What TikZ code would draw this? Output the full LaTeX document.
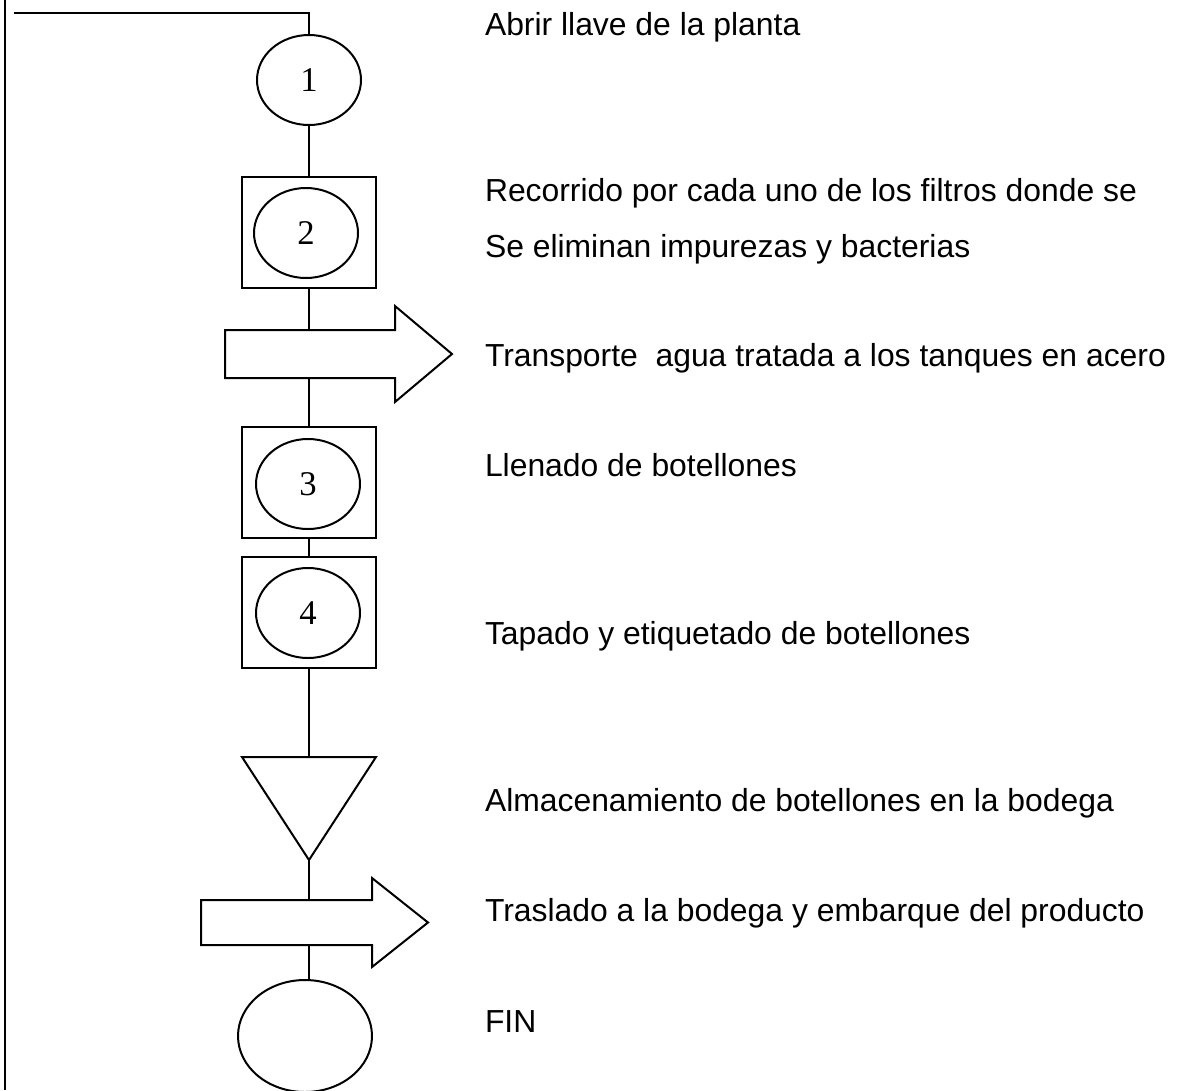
\documentclass[tikz,border=0pt]{standalone}
\usepackage{fontspec}
\setmainfont{Liberation Serif}
\newfontfamily\arial{Liberation Sans}
\usetikzlibrary{shapes.geometric}
\tikzset{proc/.style={draw, ellipse, inner sep=0pt, minimum width=78pt, minimum height=67.5pt,
                      font=\fontsize{26}{30}\selectfont}}
\tikzset{caja/.style={draw, rectangle, inner sep=0pt, minimum width=100.5pt, minimum height=83.25pt}}
\tikzset{texto/.style={anchor=base west, inner sep=0pt, font=\arial\fontsize{23.9}{28}\selectfont}}

\begin{document}
\begin{tikzpicture}[x=0.75pt, y=-0.75pt, line width=1.5pt]
  \useasboundingbox (0,0) rectangle (1181,1090);
  \draw (5,0)--(5,1090);

  % operaciones
  \node[proc] (e1) at (309,80) {1};
  \node[caja] (b2) at (309,232.5) {};
  \node[proc] (e2) at (306,233) {2};
  \node[caja] (b3) at (309,482.5) {};
  \node[proc] (e3) at (308,484) {3};
  \node[caja] (b4) at (309,612) {};
  \node[proc] (e4) at (308,613) {4};
  \node[proc, minimum width=100.5pt, minimum height=84pt] (fin) at (305,1036) {};

  % transportes y almacenamiento
  \draw (225,330)--(395,330)--(395,306)--(452,354)--(395,402)--(395,378)--(225,378)--cycle;
  \coordinate (tr1n) at (309,330);
  \coordinate (tr1s) at (309,378);
  \draw (242,757)--(376,757)--(309,860)--cycle;
  \coordinate (alm) at (309,757);
  \coordinate (almp) at (309,860);
  \draw (201,900)--(372,900)--(372,878)--(428,922.5)--(372,967)--(372,945)--(201,945)--cycle;
  \coordinate (tr2n) at (309,900);
  \coordinate (tr2s) at (309,945);

  % lineas
  \coordinate (ini) at (14,13);
  \draw (ini) -| (e1.north);
  \draw (e1.south)--(b2.north);
  \draw (b2.south)--(tr1n);
  \draw (tr1s)--(b3.north);
  \draw (b3.south)--(b4.north);
  \draw (b4.south)--(alm);
  \draw (almp)--(tr2n);
  \draw (tr2s)--(tr2s |- fin.north);

  % textos
  \node[texto] (t1) at (484,35) {Abrir llave de la planta};
  \node[texto] (t2) at (484,201) {Recorrido por cada uno de los filtros donde se};
  \node[texto] (t3) at (484,257) {Se eliminan impurezas y bacterias};
  \node[texto] (t4) at (484,366) {Transporte\ \ agua tratada a los tanques en acero};
  \node[texto] (t5) at (484,476) {Llenado de botellones};
  \node[texto] (t6) at (484,644) {Tapado y etiquetado de botellones};
  \node[texto] (t7) at (484,811) {Almacenamiento de botellones en la bodega};
  \node[texto] (t8) at (484,921) {Traslado a la bodega y embarque del producto};
  \node[texto] (t9) at (484,1032) {FIN};
\end{tikzpicture}
\end{document}
